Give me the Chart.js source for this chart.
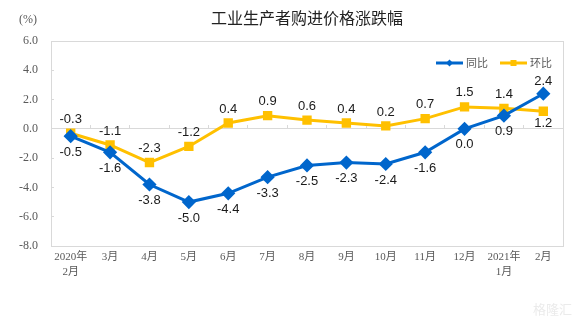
<!DOCTYPE html>
<html>
<head>
<meta charset="utf-8">
<script src="https://cdn.jsdelivr.net/npm/chart.js@4/dist/chart.umd.min.js"></script>
<style>
    html, body { margin: 0; padding: 0; background: #fff; }
    #wrap { width: 576px; height: 326px; position: relative; }
</style>
</head>
<body>
<div id="wrap"><canvas id="priceChart"></canvas></div>
<script>
// Chart data
const months = [['2020年', '2月'], '3月', '4月', '5月', '6月', '7月', '8月', '9月', '10月', '11月', '12月', ['2021年', '1月'], '2月'];
const yoyValues = [-0.5, -1.6, -3.8, -5.0, -4.4, -3.3, -2.5, -2.3, -2.4, -1.6, 0.0, 0.9, 2.4]; // 同比
const momValues = [-0.3, -1.1, -2.3, -1.2, 0.4, 0.9, 0.6, 0.4, 0.2, 0.7, 1.5, 1.4, 1.2]; // 环比
const yTicks = [6, 4, 2, 0, -2, -4, -6, -8];

const chartTitle = '工业生产者购进价格涨跌幅';
const unitLabel = '(%)';

const BLUE = '#0066CC';
const YELLOW = '#FFC000';
const AXIS_GRAY = '#D9D9D9';
const TEXT_GRAY = '#595959';

/* ===========================
   Small custom plugins
   =========================== */

// border round the plot area + title + unit + legend + watermark
const decorPlugin = {
    id: 'decor',
    beforeDatasetsDraw(chart) {
        const { ctx, chartArea: a } = chart;
        ctx.save();
        ctx.strokeStyle = AXIS_GRAY;
        ctx.lineWidth = 1;
        ctx.strokeRect(Math.round(a.left) + 0.5, Math.round(a.top) + 0.5,
            Math.round(a.right - a.left), Math.round(a.bottom - a.top));
        ctx.restore();
    },
    afterDraw(chart) {
        const { ctx, chartArea: a } = chart;
        ctx.save();
        // title
        ctx.fillStyle = '#222';
        ctx.font = '16px "Noto Sans CJK SC"';
        ctx.textAlign = 'center';
        ctx.textBaseline = 'middle';
        ctx.fillText(chartTitle, (a.left + a.right) / 2, 18);

        // unit
        ctx.fillStyle = TEXT_GRAY;
        ctx.font = '12px "Liberation Serif"';
        ctx.fillText(unitLabel, 28, 20);

        // legend (inside plot, top right)
        const items = chart.data.datasets.map(ds => ({ text: ds.label, color: ds.borderColor, style: ds.pointStyle }));
        let x = 436;
        const y = 63;
        items.forEach(item => {
            ctx.strokeStyle = item.color;
            ctx.lineWidth = 3;
            ctx.beginPath();
            ctx.moveTo(x, y);
            ctx.lineTo(x + 27, y);
            ctx.stroke();
            ctx.fillStyle = item.color;
            const cx = x + 13.5;
            if (item.style === 'rectRot') {
                ctx.beginPath();
                ctx.moveTo(cx, y - 3.5);
                ctx.lineTo(cx + 3.5, y);
                ctx.lineTo(cx, y + 3.5);
                ctx.lineTo(cx - 3.5, y);
                ctx.closePath();
                ctx.fill();
            } else {
                ctx.fillRect(cx - 3, y - 3, 6, 6);
            }
            ctx.fillStyle = TEXT_GRAY;
            ctx.font = '11px "Noto Sans CJK SC"';
            ctx.textAlign = 'left';
            ctx.fillText(item.text, x + 30, y);
            x += 64;
        });

        // faint watermark
        ctx.fillStyle = '#EBEBEB';
        ctx.font = '13px "Noto Sans CJK SC"';
        ctx.textAlign = 'right';
        ctx.fillText('格隆汇', 572, 309);
        ctx.restore();
    }
};

// value labels next to each point
const valueLabelPlugin = {
    id: 'valueLabels',
    afterDatasetsDraw(chart) {
        const { ctx } = chart;
        ctx.save();
        ctx.font = '13px "Liberation Sans"';
        ctx.fillStyle = '#1a1a1a';
        ctx.textAlign = 'center';
        ctx.textBaseline = 'middle';
        chart.data.datasets.forEach((ds, di) => {
            const meta = chart.getDatasetMeta(di);
            const last = ds.data.length - 1;
            meta.data.forEach((pt, i) => {
                // 同比 below, 环比 above; the last month flips
                let below = di === 0;
                if (i === last) below = !below;
                const dy = below ? (i === last ? 12 : 16) : (i === last ? -12 : -14);
                ctx.fillText(ds.data[i].toFixed(1), pt.x, pt.y + dy);
            });
        });
        ctx.restore();
    }
};

/* ===========================
   Chart
   =========================== */

const ctx = document.getElementById('priceChart').getContext('2d');
const priceChart = new Chart(ctx, {
    type: 'line',
    data: {
        labels: months,
        datasets: [{
            label: '同比',
            data: yoyValues,
            borderColor: BLUE,
            backgroundColor: BLUE,
            borderWidth: 3,
            pointStyle: 'rectRot',
            pointRadius: 5,
            pointHoverRadius: 5,
            tension: 0,
            xAxisID: 'x',
            order: 1
        }, {
            label: '环比',
            data: momValues,
            borderColor: YELLOW,
            backgroundColor: YELLOW,
            borderWidth: 3,
            pointStyle: 'rect',
            pointRadius: 4.5,
            pointHoverRadius: 4.5,
            tension: 0,
            xAxisID: 'x',
            order: 2
        }]
    },
    options: {
        responsive: true,
        maintainAspectRatio: false,
        animation: false,
        layout: {
            padding: { top: 41, right: 13, bottom: 0, left: 0 }
        },
        plugins: {
            legend: { display: false },
            title: { display: false },
            tooltip: { enabled: false }
        },
        scales: {
            x: {
                type: 'category',
                position: 'bottom',
                offset: true,
                grid: { display: false, drawTicks: false },
                border: { color: AXIS_GRAY },
                ticks: {
                    color: TEXT_GRAY,
                    font: { family: '"Liberation Serif", "Noto Sans CJK SC"', size: 11, lineHeight: 1.36 },
                    padding: 4,
                    maxRotation: 0,
                    autoSkip: false
                },
                afterFit(scale) { scale.height = 80; }
            },
            // zero line with category tick marks
            x0: {
                type: 'category',
                axis: 'x',
                position: { y: 0 },
                offset: true,
                grid: { offset: true, drawOnChartArea: false, tickLength: -4, color: AXIS_GRAY },
                border: { color: AXIS_GRAY },
                ticks: { display: false }
            },
            y: {
                min: -8,
                max: 6,
                afterBuildTicks(scale) {
                    scale.ticks = yTicks.map(v => ({ value: v }));
                },
                grid: { drawOnChartArea: false, tickLength: -3, color: AXIS_GRAY },
                border: { color: AXIS_GRAY },
                ticks: {
                    color: TEXT_GRAY,
                    font: { family: '"Liberation Serif"', size: 12 },
                    padding: 16,
                    callback: v => Number(v).toFixed(1)
                },
                afterFit(scale) { scale.width = 51; }
            }
        }
    },
    plugins: [decorPlugin, valueLabelPlugin]
});
</script>
</body>
</html>
